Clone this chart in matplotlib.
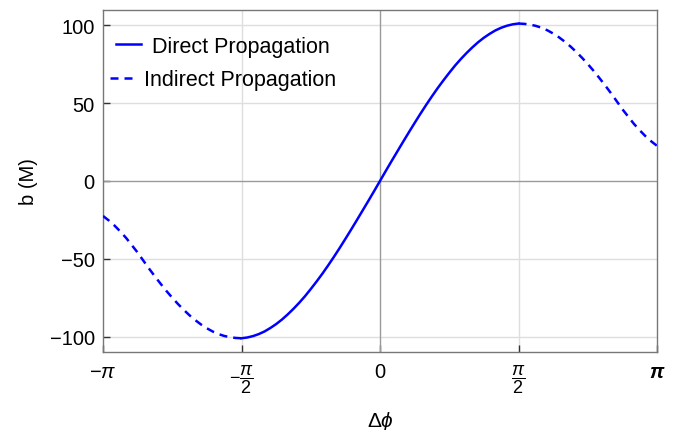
import numpy as np
import matplotlib
matplotlib.use("Agg")
import matplotlib.pyplot as plt

# ---- data ----
# angle in units of pi/48
phi_direct_k = list(range(-24, 25))
b_direct_pos = [0.0, 6.4, 12.7, 18.9, 25.1, 31.2, 37.2, 43.1, 48.8, 54.3, 59.6, 64.6, 69.4,
                74.0, 78.2, 82.1, 85.7, 89.0, 91.9, 94.4, 96.6, 98.3, 99.6, 100.5, 101.0]
b_direct = [-v for v in b_direct_pos[:0:-1]] + b_direct_pos

phi_indirect_pos_k = list(range(24, 49))
b_indirect_pos = [101.0, 100.8, 100.3, 99.5, 98.3, 96.65, 94.6, 92.2, 89.4, 86.3, 82.8, 79.05,
                  75.0, 70.7, 66.1, 61.35, 56.4, 51.25, 46.0, 41.3, 36.6, 32.5, 28.7, 25.4, 22.5]

phi_indirect_neg_k = list(range(-48, -23))
b_indirect_neg = [-v for v in b_indirect_pos[::-1]]

xtick_vals = [-1.0, -0.5, 0.0, 0.5, 1.0]
xtick_labels = [r'$-\pi$', r'$-\dfrac{\pi}{2}$', '0', r'$\dfrac{\pi}{2}$', r'$\boldsymbol{\pi}$']
ytick_vals = [-100, -50, 0, 50, 100]
ytick_labels = ['\u2212100', '\u221250', '0', '50', '100']

# ---- style ----
plt.rcParams['font.family'] = ['Liberation Sans', 'DejaVu Sans']
plt.rcParams['mathtext.fontset'] = 'custom'
plt.rcParams['mathtext.rm'] = 'Liberation Sans'
plt.rcParams['mathtext.it'] = 'Liberation Sans:italic'
plt.rcParams['mathtext.bf'] = 'Liberation Sans:bold'
plt.rcParams['mathtext.bfit'] = 'Liberation Sans:bold:italic'

fig = plt.figure(figsize=(6.8, 4.31), dpi=100)
ax = fig.add_axes([0.1515, 0.1803, 0.8147, 0.7953])

step = np.pi / 48
xd = np.array(phi_direct_k) * step
xp = np.array(phi_indirect_pos_k) * step
xn = np.array(phi_indirect_neg_k) * step

blue = '#0000ff'
lw = 1.8
dash = (0, (3.2, 2.4))
l1, = ax.plot(xd, b_direct, color=blue, lw=lw, label='Direct Propagation', zorder=3,
              solid_joinstyle='round')
l2, = ax.plot(xp, b_indirect_pos, color=blue, lw=lw, ls=dash, label='Indirect Propagation', zorder=3)
ax.plot(xn, b_indirect_neg, color=blue, lw=lw, ls=dash, zorder=3)

ax.set_xlim(-np.pi, np.pi)
ax.set_ylim(-110, 110)

# grid
for yv in [-100, -50, 50, 100]:
    ax.axhline(yv, color='#dedede', lw=1.0, zorder=1)
for xv in [-np.pi / 2, np.pi / 2]:
    ax.axvline(xv, color='#dedede', lw=1.0, zorder=1)
ax.axhline(0, color='#9a9a9a', lw=1.0, zorder=2)
ax.axvline(0, color='#9a9a9a', lw=1.0, zorder=2)

ax.set_xticks(np.array(xtick_vals) * np.pi)
ax.set_xticklabels(xtick_labels)
ax.set_yticks(ytick_vals)
ax.set_yticklabels(ytick_labels)
ax.tick_params(direction='in', length=5, width=1, color='#333333', labelsize=14.5)
ax.tick_params(axis='y', pad=6)
ax.tick_params(axis='x', pad=7)
for i, t in enumerate(ax.get_xticklabels()):
    if i in (1, 3):
        t.set_fontsize(13)

for s in ax.spines.values():
    s.set_color('#777777')
    s.set_linewidth(1.0)

ax.set_xlabel(r'$\Delta\phi$', fontsize=15, labelpad=10)
ax.set_ylabel('b (M)', fontsize=14.5, labelpad=8)

leg1 = ax.legend(handles=[l1], loc='center left', bbox_to_anchor=(0.0235, 0.8934),
                 frameon=False, fontsize=15.5, handlelength=1.15, handletextpad=0.5,
                 borderaxespad=0, borderpad=0)
ax.add_artist(leg1)
ax.legend(handles=[l2], loc='center left', bbox_to_anchor=(0.0126, 0.7944),
          frameon=False, fontsize=15.5, handlelength=1.0, handletextpad=0.6,
          borderaxespad=0, borderpad=0)

fig.savefig('out.png', dpi=100)
